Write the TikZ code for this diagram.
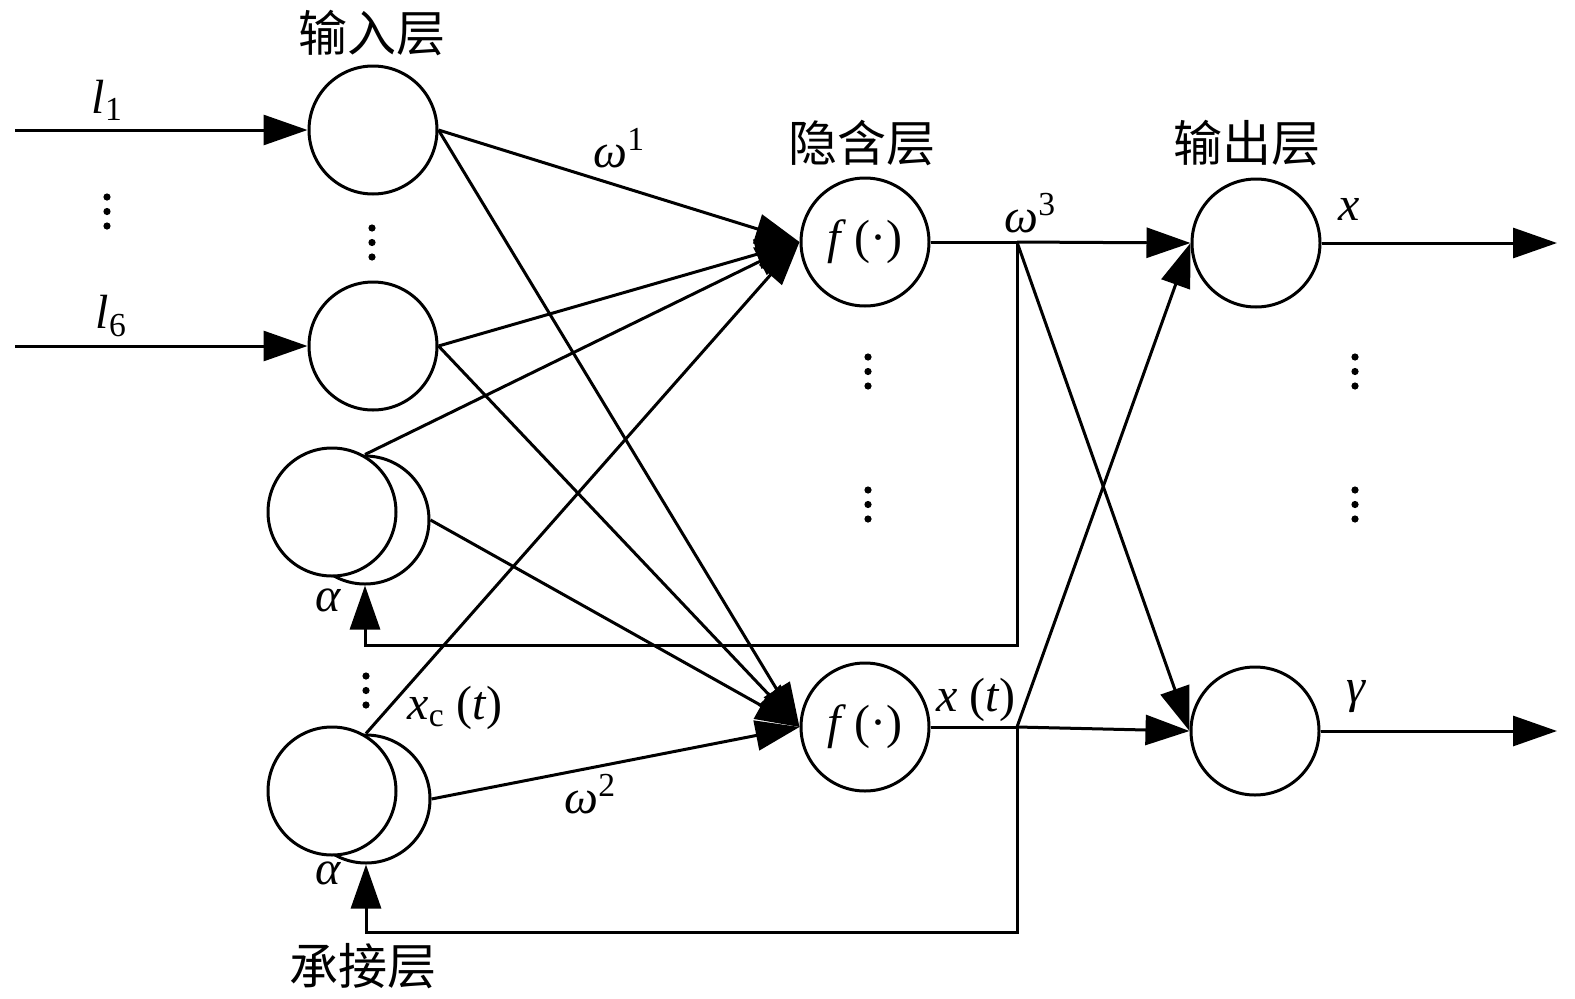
\RequirePackage{fix-cm}
\documentclass[tikz,border=0pt]{standalone}
\usepackage{fontspec}
\newfontfamily\cjk{Noto Sans CJK SC}
\newfontfamily\tms{Liberation Serif}
\usetikzlibrary{arrows.meta}
\begin{document}
\begin{tikzpicture}[x=1pt,y=-1pt,
  neuron/.style={draw, circle, minimum size=128pt, inner sep=0pt, line width=3pt, fill=white, font=\tms\fontsize{48}{54}\selectfont},
  conn/.style={line width=3pt},
  arr/.style={conn, -{Triangle[length=44pt,width=30pt]}},
  lab/.style={font=\tms\fontsize{48}{54}\selectfont, inner sep=0pt},
  ttl/.style={font=\cjk\fontsize{49}{54}\selectfont, inner sep=0pt}]
\useasboundingbox (0,0) rectangle (1575,999);

% nodes
\node[neuron] (i1) at (373,130) {};
\node[neuron] (i6) at (373,346) {};
\node[neuron] (c1b) at (365,520) {};
\node[neuron] (c1) at (332,512) {};
\node[neuron] (c2b) at (366,799) {};
\node[neuron] (c2) at (332,791) {};
\node[neuron] (h1) at (865,242) {\textit{f}\,(·)};
\node[neuron] (h2) at (865,727) {\textit{f}\,(·)};
\node[neuron] (o1) at (1256,243) {};
\node[neuron] (o2) at (1255,731) {};

% helper coordinates
\coordinate (s1) at (15,130);
\coordinate (s6) at (15,346);
\coordinate (t1) at (1557,243);
\coordinate (t2) at (1557,731);
\coordinate (j1) at (1017,242);
\coordinate (j2) at (1017,727);
\coordinate (fb1) at (1017,645);
\coordinate (fb2) at (1017,932);

% inputs
\draw[arr] (s1) -- (i1.west);
\draw[arr] (s6) -- (i6.west);

% to hidden
\draw[arr] (i1.east) -- (h1.west);
\draw[arr] (i1.east) -- (h2.west);
\draw[arr] (i6.east) -- (h1.west);
\draw[arr] (i6.east) -- (h2.west);
\draw[arr] (c1b.north) -- (h1.west);
\draw[arr] (c1b.east) -- (h2.west);
\draw[arr] (c2b.north) -- (h1.west);
\draw[arr] (c2b.east) -- (h2.west);

% hidden to output
\draw[conn] (h1.east) -- (j1);
\draw[conn] (h2.east) -- (j2);
\draw[arr] (j1) -- (o1.west);
\draw[arr] (j1) -- (o2.west);
\draw[arr] (j2) -- (o2.west);
\draw[arr] (j2) -- (o1.west);

% feedback
\draw[arr] (j1) -- (fb1) -| (c1b.south);
\draw[arr] (j2) -- (fb2) -| (c2b.south);

% outputs
\draw[arr] (o1.east) -- (t1);
\draw[arr] (o2.east) -- (t2);

% titles
\node[ttl] (tin) at (372,33) {输入层};
\node[ttl] (thid) at (862,143) {隐含层};
\node[ttl] (tout) at (1247,143) {输出层};
\node[ttl] (tctx) at (363,966) {承接层};

% labels
\node[lab] (l1) at (107,100) {\textit{l}\textsubscript{1}};
\node[lab] (l6) at (111,316) {\textit{l}\textsubscript{6}};
\node[lab] (w1) at (619,148) {\textit{ω}\textsuperscript{1}};
\node[lab] (w2) at (590,794) {\textit{ω}\textsuperscript{2}};
\node[lab] (w3) at (1030,213) {\textit{ω}\textsuperscript{3}};
\node[lab] (lx) at (1349,209) {\textit{x}};
\node[lab] (lg) at (1356,697) {\textit{γ}};
\node[lab] (lxt) at (976,700) {\textit{x} (\textit{t})};
\node[lab] (lxc) at (455,708) {\textit{x}\textsubscript{c} (\textit{t})};
\node[lab] (a1) at (328,600) {\textit{α}};
\node[lab] (a2) at (328,873) {\textit{α}};

% dots
\foreach \x/\y in {107/197, 372/228, 868/357, 868/490, 1355/357, 1355/490, 366/676} {
  \foreach \k in {0,1,2} \fill (\x,\y+\k*14.5) circle (3.6);
}
\end{tikzpicture}
\end{document}
